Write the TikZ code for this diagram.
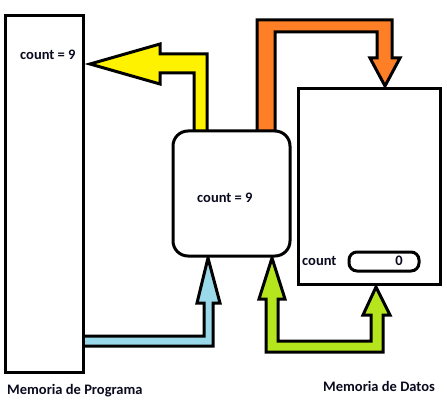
\documentclass[tikz,border=0pt]{standalone}
\usepackage{fontspec}
\setmainfont{Carlito}
\definecolor{pyellow}{RGB}{255,242,0}
\definecolor{porange}{RGB}{255,127,39}
\definecolor{pblue}{RGB}{153,217,234}
\definecolor{pgreen}{RGB}{181,230,29}
\definecolor{txt}{RGB}{10,10,30}
\tikzset{
  arrowshape/.style={draw=black,line width=3pt,line join=miter,miter limit=10},
  box/.style={draw=black,fill=white,line width=3pt},
  lbl/.style={font=\fontsize{14.5}{16}\selectfont\bfseries,text=txt,inner sep=0pt},
}
\begin{document}
\begin{tikzpicture}[x=1pt,y=-1pt]
\useasboundingbox (0,0) rectangle (447,409);
% arrows
\draw[arrowshape,fill=pyellow] (90,64) -- (160,44) -- (160,54) -- (207,54) -- (207,133) -- (194,133) -- (194,73) -- (160,73) -- (160,84) -- cycle;
\draw[arrowshape,fill=porange] (257,133) -- (257,20) -- (392,20) -- (392,58) -- (400,58) -- (385,86) -- (370,58) -- (377,58) -- (377,32) -- (275,32) -- (275,133) -- cycle;
\draw[arrowshape,fill=pblue] (80,336) -- (204,336) -- (204,303) -- (197,303) -- (208,258) -- (220,303) -- (213,303) -- (213,346) -- (80,346) -- cycle;
\draw[arrowshape,fill=pgreen] (272,258) -- (285,299) -- (278,299) -- (278,341) -- (371,341) -- (371,315) -- (363,315) -- (376,287) -- (390,315) -- (383,315) -- (383,352) -- (266,352) -- (266,299) -- (259,299) -- cycle;
% boxes
\draw[box] (5,16) rectangle (83,372);
\draw[box,rounded corners=15pt] (173,131) rectangle (290,256);
\draw[box] (298,89) rectangle (440,284);
\draw[box,rounded corners=8pt] (349,252) rectangle (419,271);
% labels
\node[lbl,anchor=west] (pm) at (20,55) {count = 9};
\node[lbl,anchor=west] (cpu) at (197,198) {count = 9};
\node[lbl,anchor=west] (dc) at (302,261) {count};
\node[lbl] (dv) at (399,261) {0};
\node[lbl,anchor=west] (mp) at (7,391) {Memoria de Programa};
\node[lbl,anchor=west] (md) at (323,386) {Memoria de Datos};
\end{tikzpicture}
\end{document}
